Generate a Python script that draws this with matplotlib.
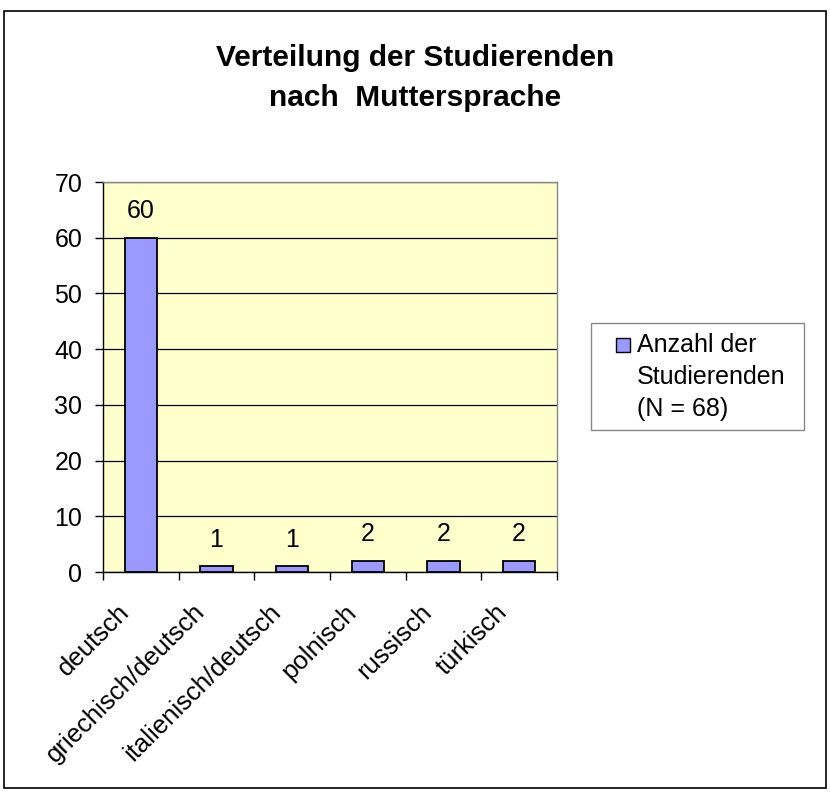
import matplotlib
matplotlib.use("Agg")
import matplotlib.pyplot as plt
import matplotlib.transforms as mtransforms
from matplotlib.patches import Rectangle

categories = ["deutsch", "griechisch/deutsch", "italienisch/deutsch", "polnisch", "russisch", "türkisch"]
values = [60, 1, 1, 2, 2, 2]
series_label = "Anzahl der\nStudierenden\n(N = 68)"
title = "Verteilung der Studierenden\nnach  Muttersprache"
yticks = [0, 10, 20, 30, 40, 50, 60, 70]

plt.rcParams['font.family'] = ['Liberation Sans', 'DejaVu Sans']

W, H = 830, 792
FS = 18
BAR = '#9999FF'
fig = plt.figure(figsize=(W/100, H/100), dpi=100)
fig.patches.append(Rectangle((4/W, 1 - 788/H), 822/W, 777/H, transform=fig.transFigure,
                             fill=False, edgecolor='black', linewidth=1.2))

ax = fig.add_axes([103/W, 1 - 572/H, 454/W, 390/H])
ax.set_facecolor('#FFFFCC')
x = list(range(len(categories)))
ax.bar(x, values, width=0.43, color=BAR, edgecolor='black', linewidth=1.3, zorder=3)
ax.set_xlim(-0.5, len(categories) - 0.5)
ax.set_ylim(0, 70)
ax.set_yticks(yticks)
ax.tick_params(axis='y', labelsize=FS, length=6, direction='out', width=1, pad=9)
ax.yaxis.grid(True, color='black', linewidth=0.9, zorder=1)
ax.set_axisbelow(True)

ax.set_xticks([i - 0.5 for i in range(len(categories) + 1)], minor=False)
ax.set_xticklabels([''] * (len(categories) + 1))
ax.set_xticks(x, minor=True)
ax.set_xticklabels(categories, minor=True, rotation=45, ha='right', va='top',
                   rotation_mode='anchor', fontsize=18.5)
ax.tick_params(axis='x', which='major', length=6, width=1, direction='out')
ax.tick_params(axis='x', which='minor', length=0, pad=20)
offset = mtransforms.ScaledTranslation(-24/100, 0, fig.dpi_scale_trans)
for lab in ax.get_xticklabels(minor=True):
    lab.set_transform(lab.get_transform() + offset)

for s in ['top', 'right']:
    ax.spines[s].set_color('#888888')
    ax.spines[s].set_linewidth(1)
for s in ['left', 'bottom']:
    ax.spines[s].set_color('black')
    ax.spines[s].set_linewidth(1)

for xi, v in zip(x, values):
    ax.annotate(str(v), (xi, v), xytext=(0, 14), textcoords='offset points',
                ha='center', va='baseline', fontsize=FS)

fig.text(415/W, 1 - 78/H, title, ha='center', va='center', fontsize=21.5,
         fontweight='bold', linespacing=1.58)

# legend box
fig.patches.append(Rectangle((591/W, 1 - 430/H), 213/W, 107/H, transform=fig.transFigure,
                             facecolor='white', edgecolor='#888888', linewidth=1))
fig.patches.append(Rectangle((616/W, 1 - 352/H), 14/W, 14/H, transform=fig.transFigure,
                             facecolor=BAR, edgecolor='black', linewidth=1))
fig.text(637/W, 1 - 333/H, series_label, ha='left', va='top', fontsize=FS,
         linespacing=1.42)

fig.savefig("out.png", dpi=100)
